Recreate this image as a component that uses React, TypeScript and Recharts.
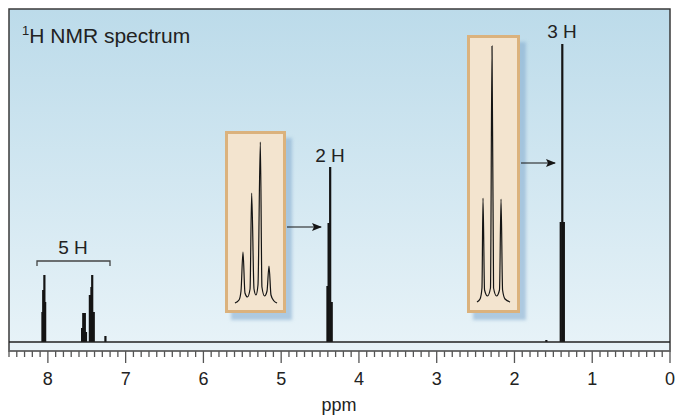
import React from 'react';
import {
    ComposedChart,
    LineChart,
    Line,
    Bar,
    XAxis,
    YAxis,
    ReferenceArea,
    ReferenceLine,
} from 'recharts';

// main spectrum: peak positions (ppm) and heights (px-ish intensity above baseline)
const peakPpm = [8.07, 8.06, 8.045, 8.035, 7.56, 7.545, 7.525, 7.51, 7.46, 7.44, 7.43, 7.41, 7.26, 4.405, 4.39, 4.37, 4.35, 1.59, 1.405, 1.385, 1.365];
const peakHeight = [30, 52, 67, 40, 14, 29, 29, 10, 47, 55, 67, 30, 6, 56, 119, 175, 40, 2, 120, 298, 120];

const majorTicks = [0, 1, 2, 3, 4, 5, 6, 7, 8];

// inset traces, x in Hz from multiplet centre
const quartetHz = [-17, -13.7, -12.1, -10.5, -8.9, -6.9, -4.8, -3.5, -1.6, 0, 1.6, 3.5, 4.8, 6.9, 8.9, 10.5, 12.1, 14.5, 17];
const quartetY = [0, 3, 12, 51, 10, 6, 14, 110, 14, 8, 18, 161, 16, 7, 12, 37, 8, 2, 0];
const tripletHz = [-11.7, -9.3, -7.8, -7, -5.8, -3.5, -1.2, 0, 1.2, 3.5, 5.8, 7, 8.2, 10.1, 14];
const tripletY = [0, 3, 14, 104, 12, 6, 14, 256, 14, 6, 12, 103, 12, 3, 0];

const FONT = '"Liberation Sans", Arial, Helvetica, sans-serif';
const INK = '#141414';

const spectrum = peakPpm.map((p, i) => ({ ppm: p, h: peakHeight[i] }));
const quartet = quartetHz.map((x, i) => ({ hz: x, y: quartetY[i] }));
const triplet = tripletHz.map((x, i) => ({ hz: x, y: tripletY[i] }));
const allTicks = Array.from({ length: 86 }, (_, i) => i / 10);

const PpmTick = (props: any) => {
    const { x, y, payload } = props;
    const v = payload.value;
    const major = majorTicks.some((m) => Math.abs(m - v) < 1e-6);
    return (
        <g>
            <line x1={x} x2={x} y1={y} y2={y + (major ? 12 : 6)} stroke="#555" strokeWidth={1.3} />
            {major && (
                <text x={x} y={y + 34} textAnchor="middle" fontSize={18} fill="#222" fontFamily={FONT}>
                    {v}
                </text>
            )}
        </g>
    );
};

// the band on a numeric axis is tiny, so draw each peak as a fixed-width stick
const Stick = (props: any) => {
    const { x, y, width, height } = props;
    if (!height) return null;
    return <rect x={x + width / 2 - 1.1} y={y} width={2.2} height={height} fill={INK} />;
};

const boxStyle = (left: number, top: number, width: number, height: number): React.CSSProperties => ({
    position: 'absolute',
    left,
    top,
    width,
    height,
    boxSizing: 'border-box',
    background: '#f3e4cf',
    border: '3px solid #dbb27d',
    boxShadow: '6px 7px 3px rgba(130,170,205,0.55)',
});

const Inset = ({ data, w, h, xDomain, yDomain }: any) => (
    <LineChart width={w} height={h} data={data} margin={{ top: 0, right: 0, bottom: 0, left: 0 }}>
        <XAxis type="number" dataKey="hz" domain={xDomain} hide allowDataOverflow />
        <YAxis type="number" domain={yDomain} hide allowDataOverflow />
        <Line type="monotone" dataKey="y" stroke={INK} strokeWidth={1.2} dot={false} isAnimationActive={false} />
    </LineChart>
);

export default function App() {
    return (
        <div style={{ position: 'absolute', left: 0, top: 0, width: 677, height: 419, background: '#fff', fontFamily: FONT }}>
            <ComposedChart width={677} height={419} data={spectrum} margin={{ top: 9, right: 7, bottom: 28, left: 9 }}>
                <defs>
                    <linearGradient id="bg" x1="0" y1="0" x2="0" y2="1">
                        <stop offset="0%" stopColor="#bcdbea" />
                        <stop offset="100%" stopColor="#e8f3f8" />
                    </linearGradient>
                </defs>
                <XAxis
                    type="number"
                    dataKey="ppm"
                    domain={[0, 8.5]}
                    reversed
                    allowDataOverflow
                    ticks={allTicks}
                    interval={0}
                    height={40}
                    tickSize={0}
                    tickMargin={0}
                    tickLine={false}
                    axisLine={{ stroke: '#777', strokeWidth: 1 }}
                    tick={<PpmTick />}
                />
                <YAxis type="number" domain={[-9, 333]} hide allowDataOverflow />
                <ReferenceArea x1={8.5} x2={0} y1={-9} y2={333} fill="url(#bg)" fillOpacity={1} stroke="#3a3a3a" strokeWidth={1.5} />
                <ReferenceLine y={0} stroke="#222" strokeWidth={1.5} />
                <Bar dataKey="h" fill={INK} shape={<Stick />} isAnimationActive={false} />
            </ComposedChart>

            <div style={boxStyle(225, 131, 61, 182)}>
                <Inset data={quartet} w={55} h={176} xDomain={[-22.6, 21.8]} yDomain={[-7, 169]} />
            </div>
            <div style={boxStyle(467, 35, 53, 278)}>
                <Inset data={triplet} w={47} h={272} xDomain={[-17.1, 19.4]} yDomain={[-8, 264]} />
            </div>

            <svg width={677} height={419} style={{ position: 'absolute', left: 0, top: 0, pointerEvents: 'none' }}>
                <defs>
                    <marker id="arrow" markerWidth="10" markerHeight="8" refX="9" refY="4" orient="auto" markerUnits="userSpaceOnUse">
                        <path d="M0,0 L10,4 L0,8 L2,4 Z" fill={INK} />
                    </marker>
                </defs>
                <text x={22} y={43} fontSize={21} fill="#222" fontFamily={FONT}>
                    <tspan fontSize={13} dy={-8}>1</tspan>
                    <tspan dy={8}>H NMR spectrum</tspan>
                </text>
                <text x={330} y={162} fontSize={19} fill="#222" textAnchor="middle" fontFamily={FONT}>2 H</text>
                <text x={562} y={38} fontSize={19} fill="#222" textAnchor="middle" fontFamily={FONT}>3 H</text>
                <text x={73} y={254} fontSize={19} fill="#222" textAnchor="middle" fontFamily={FONT}>5 H</text>
                <path d="M37,266 L37,261 L110,261 L110,266" fill="none" stroke="#444" strokeWidth={1.3} />
                <line x1={287} y1={227} x2={321} y2={227} stroke={INK} strokeWidth={1.2} markerEnd="url(#arrow)" />
                <line x1={521} y1={163} x2={555} y2={163} stroke={INK} strokeWidth={1.2} markerEnd="url(#arrow)" />
                <text x={339} y={411} fontSize={18} fill="#222" textAnchor="middle" fontFamily={FONT}>ppm</text>
            </svg>
        </div>
    );
}
